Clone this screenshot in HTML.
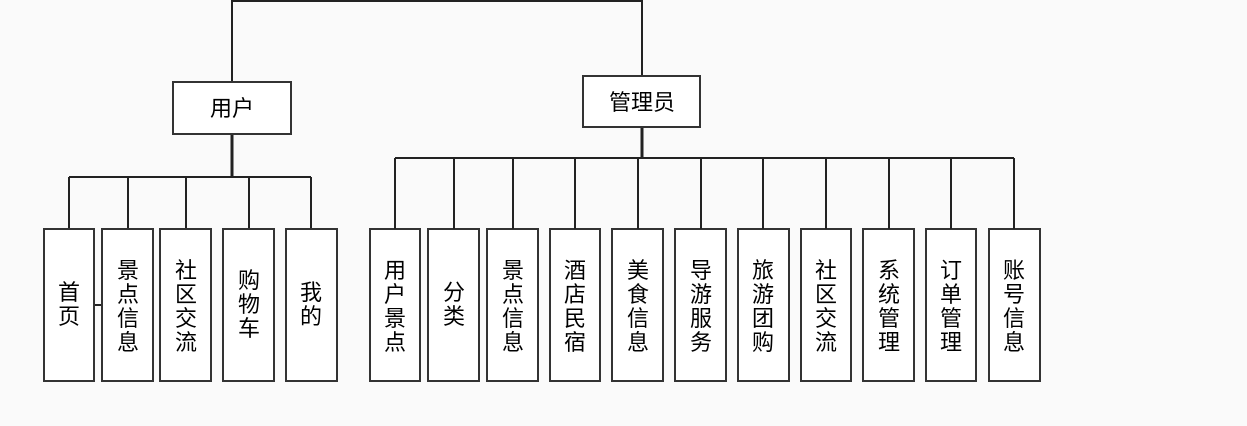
<!DOCTYPE html>
<html><head><meta charset="utf-8"><style>
html,body{margin:0;padding:0;background:#fafafa;}
svg{display:block;}
text{font-family:"Liberation Sans","Noto Sans CJK SC","WenQuanYi Zen Hei",sans-serif;font-size:21px;fill:#000;text-anchor:middle;}
.v text{font-size:22px;}
</style></head><body>
<svg width="1247" height="426" viewBox="0 0 1247 426" xmlns="http://www.w3.org/2000/svg">
<g stroke="#222" stroke-width="2" fill="none">
<polyline points="232,82 232,1 642,1 642,76"/>
<line x1="232" y1="134" x2="232" y2="177" stroke-width="3"/>
<line x1="69" y1="177" x2="311" y2="177"/>
<line x1="69" y1="177" x2="69" y2="229"/>
<line x1="128" y1="177" x2="128" y2="229"/>
<line x1="186" y1="177" x2="186" y2="229"/>
<line x1="249" y1="177" x2="249" y2="229"/>
<line x1="311" y1="177" x2="311" y2="229"/>
<line x1="94" y1="305" x2="102" y2="305"/>
<line x1="642" y1="127" x2="642" y2="158" stroke-width="3"/>
<line x1="395" y1="158" x2="1014" y2="158"/>
</g>
<g stroke="#333" stroke-width="2" fill="#fff">
<rect x="173" y="82" width="118" height="52"/>
<rect x="583" y="76" width="117" height="51"/>
</g>
<text x="232" y="116" style="font-size:22px">用户</text>
<text x="642" y="110" style="font-size:22px">管理员</text>
<g stroke="#333" stroke-width="2" fill="#fff">
<rect x="44" y="229" width="50" height="152"/>
<rect x="102" y="229" width="51" height="152"/>
<rect x="160" y="229" width="51" height="152"/>
<rect x="223" y="229" width="51" height="152"/>
<rect x="286" y="229" width="51" height="152"/>
<rect x="370" y="229" width="50" height="152"/>
<rect x="428" y="229" width="51" height="152"/>
<rect x="487" y="229" width="51" height="152"/>
<rect x="550" y="229" width="50" height="152"/>
<rect x="612" y="229" width="51" height="152"/>
<rect x="675" y="229" width="51" height="152"/>
<rect x="738" y="229" width="51" height="152"/>
<rect x="801" y="229" width="50" height="152"/>
<rect x="863" y="229" width="51" height="152"/>
<rect x="926" y="229" width="50" height="152"/>
<rect x="989" y="229" width="51" height="152"/>
</g>
<g stroke="#222" stroke-width="2">
<line x1="395" y1="158" x2="395" y2="229"/>
<line x1="454" y1="158" x2="454" y2="229"/>
<line x1="513" y1="158" x2="513" y2="229"/>
<line x1="575" y1="158" x2="575" y2="229"/>
<line x1="638" y1="158" x2="638" y2="229"/>
<line x1="701" y1="158" x2="701" y2="229"/>
<line x1="763" y1="158" x2="763" y2="229"/>
<line x1="826" y1="158" x2="826" y2="229"/>
<line x1="889" y1="158" x2="889" y2="229"/>
<line x1="951" y1="158" x2="951" y2="229"/>
<line x1="1014" y1="158" x2="1014" y2="229"/>
</g>
<g class="v">
<text x="69" y="300">首</text><text x="69" y="324">页</text>
<text x="128" y="278">景</text><text x="128" y="302">点</text><text x="128" y="326">信</text><text x="128" y="350">息</text>
<text x="186" y="278">社</text><text x="186" y="302">区</text><text x="186" y="326">交</text><text x="186" y="350">流</text>
<text x="249" y="288">购</text><text x="249" y="312">物</text><text x="249" y="336">车</text>
<text x="311" y="300">我</text><text x="311" y="324">的</text>
<text x="395" y="278">用</text><text x="395" y="302">户</text><text x="395" y="326">景</text><text x="395" y="350">点</text>
<text x="454" y="300">分</text><text x="454" y="324">类</text>
<text x="513" y="278">景</text><text x="513" y="302">点</text><text x="513" y="326">信</text><text x="513" y="350">息</text>
<text x="575" y="278">酒</text><text x="575" y="302">店</text><text x="575" y="326">民</text><text x="575" y="350">宿</text>
<text x="638" y="278">美</text><text x="638" y="302">食</text><text x="638" y="326">信</text><text x="638" y="350">息</text>
<text x="701" y="278">导</text><text x="701" y="302">游</text><text x="701" y="326">服</text><text x="701" y="350">务</text>
<text x="763" y="278">旅</text><text x="763" y="302">游</text><text x="763" y="326">团</text><text x="763" y="350">购</text>
<text x="826" y="278">社</text><text x="826" y="302">区</text><text x="826" y="326">交</text><text x="826" y="350">流</text>
<text x="889" y="278">系</text><text x="889" y="302">统</text><text x="889" y="326">管</text><text x="889" y="350">理</text>
<text x="951" y="278">订</text><text x="951" y="302">单</text><text x="951" y="326">管</text><text x="951" y="350">理</text>
<text x="1014" y="278">账</text><text x="1014" y="302">号</text><text x="1014" y="326">信</text><text x="1014" y="350">息</text>
</g>
</svg>
</body></html>
